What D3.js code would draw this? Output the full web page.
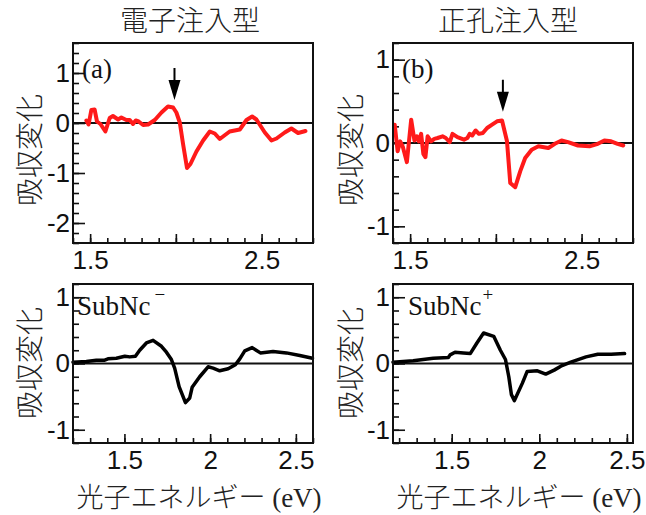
<!DOCTYPE html>
<html>
<head>
<meta charset="utf-8">
<script src="https://cdn.jsdelivr.net/npm/d3@7"></script>
<style>
  body { margin: 0; background: #fff; }
  svg { display: block; font-family: "Liberation Serif", "Times New Roman", "Noto Sans CJK JP", serif; }
  .cjk { font-family: "Noto Sans CJK JP", sans-serif; font-weight: 300; }
</style>
</head>
<body>
<svg id="chart" width="646" height="515"></svg>
<script>
/* ===== data ===== */
// (a) electron injection, red
const energyA = [1.478,1.491,1.507,1.526,1.54,1.56,1.589,1.614,1.633,1.663,1.682,1.711,1.731,1.75,1.766,1.783,1.809,1.838,1.877,1.916,1.954,1.984,2.003,2.023,2.042,2.065,2.085,2.12,2.159,2.198,2.227,2.256,2.314,2.373,2.412,2.445,2.47,2.519,2.558,2.587,2.635,2.674,2.713,2.756];
const signalA = [0.05,-0.03,0.26,0.27,0.03,-0.02,-0.17,0.10,0.14,0.07,0.11,0.06,0.06,-0.02,0.05,0.03,-0.04,-0.03,0.06,0.21,0.33,0.31,0.21,0.01,-0.42,-0.90,-0.82,-0.57,-0.35,-0.17,-0.21,-0.32,-0.17,-0.13,0.06,0.13,0.07,-0.19,-0.35,-0.31,-0.19,-0.11,-0.20,-0.16];
// (b) hole injection, red
const energyB = [1.410,1.427,1.442,1.458,1.481,1.506,1.525,1.539,1.550,1.564,1.577,1.589,1.602,1.622,1.641,1.660,1.689,1.708,1.731,1.747,1.776,1.814,1.834,1.847,1.862,1.882,1.901,1.924,1.949,1.978,2.007,2.036,2.065,2.084,2.113,2.142,2.171,2.209,2.248,2.306,2.344,2.383,2.421,2.479,2.546,2.595,2.633,2.672,2.71,2.743];
const signalB = [0.22,-0.10,0.02,-0.05,-0.23,0.28,0.03,0.08,0.02,0.11,-0.13,-0.17,0.08,0.02,0.05,0.06,0.08,0.06,0.01,0.11,0.07,0.04,0.06,0.11,0.09,0.15,0.11,0.12,0.18,0.22,0.26,0.27,0.02,-0.48,-0.53,-0.34,-0.18,-0.08,-0.04,-0.06,-0.01,0.03,0.01,-0.03,-0.04,-0.01,0.03,0.02,-0.01,-0.03];
// SubNc- reference, black
const energyC = [1.2,1.278,1.336,1.385,1.404,1.453,1.502,1.531,1.564,1.589,1.628,1.667,1.716,1.745,1.774,1.793,1.819,1.856,1.881,1.895,1.939,1.988,2.017,2.056,2.105,2.147,2.173,2.202,2.245,2.293,2.367,2.445,2.523,2.597];
const signalC = [0.02,0.03,0.05,0.05,0.07,0.08,0.11,0.10,0.11,0.20,0.31,0.35,0.26,0.17,0.06,-0.07,-0.35,-0.59,-0.52,-0.36,-0.20,-0.05,-0.07,-0.11,-0.08,-0.02,0.07,0.19,0.24,0.16,0.18,0.16,0.12,0.08];
// SubNc+ reference, black
const energyD = [1.165,1.28,1.337,1.395,1.481,1.491,1.519,1.567,1.606,1.644,1.682,1.74,1.778,1.807,1.826,1.841,1.858,1.903,1.931,1.989,2.037,2.085,2.123,2.18,2.267,2.334,2.41,2.487];
const signalD = [0.02,0.04,0.06,0.08,0.09,0.13,0.17,0.16,0.15,0.31,0.46,0.41,0.20,0.06,-0.20,-0.47,-0.56,-0.30,-0.12,-0.11,-0.16,-0.10,-0.04,0.02,0.10,0.14,0.14,0.15];

// axis ranges and tick labels
const xDomainTop = [1.4, 2.8];
const xDomainC   = [1.2, 2.6];
const xDomainD   = [1.165, 2.535];
const yDomainA   = [-2.4, 1.6];
const yDomainRest = [-1.2, 1.2];
const xTicksTop    = [1.5, 2.5];
const xTicksBottom = [1.5, 2, 2.5];
const yTicksA    = [1, 0, -1, -2];
const yTicksRest = [1, 0, -1];

// arrows mark the peak (energy, value at tip)
const arrowA = [1.992, 0.46];
const arrowB = [2.041, 0.375];

const titles = ["電子注入型", "正孔注入型"];
const yTitle = "吸収変化";
const xTitle = ["光子エネルギー", " (eV)"];

/* ===== layout ===== */
const svg = d3.select("#chart");
const INK = "#111";

const panels = [
  { box:{l:73, t:43,  w:240, h:200}, xDom:xDomainTop, yDom:yDomainA,    xt:xTicksTop,    yt:yTicksA,
    e:energyA, s:signalA, color:"#ff1a1a", lw:4,   tag:"(a)", arrow:arrowA },
  { box:{l:393,t:43,  w:240, h:200}, xDom:xDomainTop, yDom:yDomainRest, xt:xTicksTop,    yt:yTicksRest,
    e:energyB, s:signalB, color:"#ff1a1a", lw:4,   tag:"(b)", arrow:arrowB },
  { box:{l:73, t:284, w:240, h:159}, xDom:xDomainC,   yDom:yDomainRest, xt:xTicksBottom, yt:yTicksRest,
    e:energyC, s:signalC, color:"#000",    lw:3.5, sub:"SubNc", sup:"−" },
  { box:{l:393,t:284, w:240, h:159}, xDom:xDomainD,   yDom:yDomainRest, xt:xTicksBottom, yt:yTicksRest,
    e:energyD, s:signalD, color:"#000",    lw:3.5, sub:"SubNc", sup:"+" }
];

const stepRange = (a, b, st) => d3.range(Math.ceil(a/st - 1e-6), Math.floor(b/st + 1e-6) + 1).map(i => +(i*st).toFixed(3));

panels.forEach((p, i) => {
  const {l, t, w, h} = p.box;
  const x = d3.scaleLinear().domain(p.xDom).range([0, w]);
  const y = d3.scaleLinear().domain(p.yDom).range([h, 0]);
  const g = svg.append("g").attr("transform", `translate(${l},${t})`);

  // minor / major ticks, pointing inwards
  const xMinor = stepRange(p.xDom[0], p.xDom[1], 0.1);
  const xMajor = stepRange(p.xDom[0], p.xDom[1], 0.5);
  const yMinor = stepRange(p.yDom[0], p.yDom[1], 0.2);
  const yMajor = stepRange(p.yDom[0], p.yDom[1], 1);

  const axStyle = sel => {
    sel.select(".domain").remove();
    sel.selectAll("line").attr("stroke", INK).attr("stroke-width", 1.6);
    sel.selectAll("text").attr("fill", INK).attr("font-size", 26);
  };

  g.append("g").attr("transform", `translate(0,${h})`)
    .call(d3.axisBottom(x).tickValues(xMinor).tickSize(-5).tickFormat("")).call(axStyle);
  g.append("g").attr("transform", `translate(0,${h})`)
    .call(d3.axisBottom(x).tickValues(xMajor).tickSize(-9).tickFormat("")).call(axStyle);
  g.append("g").attr("transform", `translate(0,${h})`)
    .call(d3.axisBottom(x).tickValues(p.xt).tickSize(0).tickPadding(8).tickFormat(d => String(d))).call(axStyle);

  g.append("g")
    .call(d3.axisLeft(y).tickValues(yMinor).tickSize(-6).tickFormat("")).call(axStyle);
  g.append("g")
    .call(d3.axisLeft(y).tickValues(yMajor).tickSize(-12).tickFormat("")).call(axStyle);
  g.append("g")
    .call(d3.axisLeft(y).tickValues(p.yt).tickSize(0).tickPadding(3).tickFormat(d => String(d))).call(axStyle);

  // zero line
  g.append("line")
    .attr("x1", 0).attr("x2", w).attr("y1", y(0)).attr("y2", y(0))
    .attr("stroke", INK).attr("stroke-width", 1.8);

  // curve
  const pts = d3.zip(p.e, p.s);
  g.append("path").datum(pts)
    .attr("fill", "none").attr("stroke", p.color).attr("stroke-width", p.lw)
    .attr("stroke-linejoin", "round").attr("stroke-linecap", "round")
    .attr("d", d3.line().x(d => x(d[0])).y(d => y(d[1])));

  // frame
  g.append("rect").attr("width", w).attr("height", h)
    .attr("fill", "none").attr("stroke", INK).attr("stroke-width", 2);

  // arrow
  if (p.arrow) {
    const ax = x(p.arrow[0]), ay = y(p.arrow[1]);
    g.append("line").attr("x1", ax).attr("x2", ax).attr("y1", ay - 32).attr("y2", ay - 15)
      .attr("stroke", "#000").attr("stroke-width", 2);
    g.append("path")
      .attr("d", `M${ax},${ay} L${ax-6},${ay-20} L${ax+6},${ay-20} Z`)
      .attr("fill", "#000");
  }

  // panel tag
  if (p.tag) {
    g.append("text").attr("x", 9).attr("y", 35).attr("font-size", 27).attr("fill", INK).text(p.tag);
  }
  if (p.sub) {
    const tx = g.append("text").attr("x", i === 2 ? 4 : 15).attr("y", 31).attr("font-size", 27).attr("fill", INK);
    tx.append("tspan").text(p.sub);
    tx.append("tspan").attr("dx", p.sup === "−" ? 4 : 1).attr("dy", -14).attr("font-size", 19).text(p.sup);
  }

  // y title
  svg.append("text").attr("class", "cjk")
    .attr("transform", `translate(${i % 2 ? 349 : 28},${i < 2 ? 150 : 363}) rotate(-90)`)
    .attr("text-anchor", "middle").attr("dominant-baseline", "central")
    .attr("font-size", 28).attr("fill", "#222").text(yTitle);
});

// column titles
[190, 508].forEach((cx, k) => {
  svg.append("text").attr("class", "cjk")
    .attr("x", cx).attr("y", 31).attr("text-anchor", "middle")
    .attr("font-size", 28).attr("fill", "#222").text(titles[k]);
});

// x titles
[199, 519].forEach(cx => {
  const t = svg.append("text").attr("x", cx).attr("y", 507).attr("text-anchor", "middle")
    .attr("font-size", 27).attr("fill", "#222");
  t.append("tspan").attr("class", "cjk").text(xTitle[0]);
  t.append("tspan").text(xTitle[1]);
});
</script>
</body>
</html>
